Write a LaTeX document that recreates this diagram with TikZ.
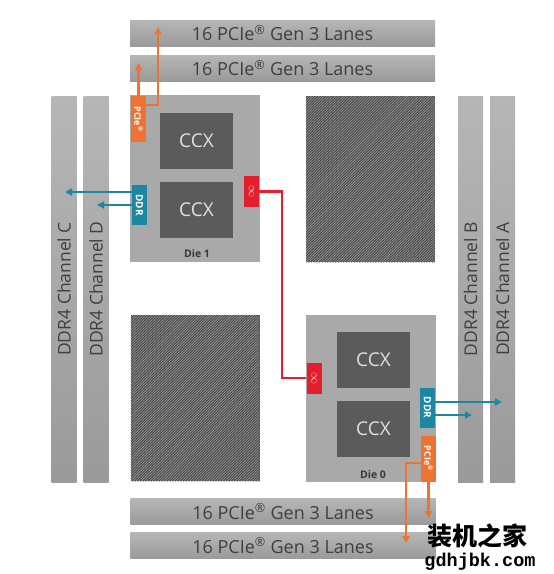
\documentclass[tikz,border=0pt]{standalone}
\usepackage{fontspec}
\setmainfont{Open Sans}
\newfontfamily\cjkfont{Noto Sans CJK SC}
\newfontfamily\monofont{Liberation Mono}
\usetikzlibrary{arrows.meta,patterns.meta}

\definecolor{balkenhell}{HTML}{B6B6B6}
\definecolor{balkendunkel}{HTML}{9A9A9A}
\definecolor{diegrau}{HTML}{A9A9A9}
\definecolor{ccxgrau}{HTML}{5B5B5B}
\definecolor{hatchgrau}{HTML}{4C4C4C}
\definecolor{textgrau}{HTML}{3F3F3F}
\definecolor{pcieorange}{HTML}{EE7330}
\definecolor{ddrteal}{HTML}{1C87A3}
\definecolor{infrot}{HTML}{E31F2E}

\begin{document}
\begin{tikzpicture}[x=1pt,y=-1pt,
	lanes/.style={inner sep=0pt, minimum width=305pt, minimum height=26pt,
		top color=balkenhell, bottom color=balkendunkel, text=textgrau,
		font=\fontsize{18}{20}\selectfont},
	kanal/.style={rotate=90, inner sep=0pt, minimum width=386pt, minimum height=25pt,
		top color=balkenhell, bottom color=balkendunkel, text=textgrau,
		font=\fontsize{17.5}{20}\selectfont},
	die/.style={inner sep=0pt, fill=diegrau, minimum width=130pt, minimum height=167pt},
	ccx/.style={inner sep=0pt, fill=ccxgrau, minimum width=73pt, minimum height=56pt,
		text=white!88!black, font=\fontsize{19}{20}\selectfont},
	gitter/.style={inner sep=0pt, fill=hatchgrau, minimum width=129pt, minimum height=166pt,
		postaction={pattern={Lines[angle=45,distance=1.9pt,line width=0.55pt]}, pattern color=gray!75}},
	pcieblk/.style={rotate=-90, inner sep=0pt, fill=pcieorange, minimum width=46pt, minimum height=15pt,
		text=white, font=\bfseries\fontsize{9}{10}\selectfont},
	ddrblk/.style={rotate=-90, inner sep=0pt, fill=ddrteal, minimum width=40pt, minimum height=15pt,
		text=white, font=\bfseries\fontsize{10}{10}\selectfont},
	infblk/.style={rotate=90, inner sep=0pt, fill=infrot, minimum width=31pt, minimum height=15pt,
		text=white!85!infrot, font=\fontsize{12}{12}\selectfont},
	dielabel/.style={anchor=base, text=textgrau!90!black, font=\bfseries\fontsize{10.5}{12}\selectfont},
	pfeil/.style={line width=2.2pt, -{Triangle[length=7pt,width=7pt]}}]

	\useasboundingbox[fill=white] (0,0) rectangle (554,574);

	% PCIe-Lanes oben und unten
	\node[lanes] (lanesA) at (282.5,33) {16 PCIe\textsuperscript{®} Gen 3 Lanes};
	\node[lanes] (lanesB) at (282.5,68) {16 PCIe\textsuperscript{®} Gen 3 Lanes};
	\node[lanes] (lanesC) at (283,511.5) {16 PCIe\textsuperscript{®} Gen 3 Lanes};
	\node[lanes] (lanesD) at (283,545.5) {16 PCIe\textsuperscript{®} Gen 3 Lanes};

	% DDR4-Kanaele links und rechts
	\node[kanal] (chanC) at (64,289) {DDR4 Channel C};
	\node[kanal] (chanD) at (96,289) {DDR4 Channel D};
	\node[kanal] (chanB) at (470.5,289) {DDR4 Channel B};
	\node[kanal] (chanA) at (502.5,289) {DDR4 Channel A};

	% leere Plaetze (schraffiert)
	\node[gitter] (leerA) at (370.5,179) {};
	\node[gitter] (leerB) at (195,398) {};

	% Die 1
	\node[die] (die1) at (195,178.5) {};
	\node[ccx] (ccx1a) at (196.5,140.5) {CCX};
	\node[ccx] (ccx1b) at (196.5,210) {CCX};
	\node[pcieblk] (pcie1) at (138.5,119) {PCIe\textsuperscript{®}};
	\node[ddrblk] (ddr1) at (139.5,205) {DDR};
	\node[infblk] (inf1) at (251.5,191.5) {$\infty$};
	\node[dielabel] (lab1) at (197,257.5) {Die 1};

	% Die 0
	\node[die] (die0) at (370.5,398.5) {};
	\node[ccx] (ccx0a) at (373.5,360) {CCX};
	\node[ccx] (ccx0b) at (373.5,429) {CCX};
	\node[infblk] (inf0) at (314,378) {$\infty$};
	\node[ddrblk] (ddr0) at (427.5,407.5) {DDR};
	\node[pcieblk] (pcie0) at (428.5,458.5) {PCIe\textsuperscript{®}};
	\node[dielabel] (lab0) at (373,478) {Die 0};

	% Infinity Fabric zwischen den Dies
	\draw[infrot, line width=2.4pt] (inf1.south) -- ++(23,0) |- (inf0.north);

	% DDR-Verbindungen
	\coordinate (tipC) at (65,192);
	\coordinate (tipD) at (97,205);
	\coordinate (tipA) at (502,402);
	\coordinate (tipB) at (472,415);
	\draw[pfeil, ddrteal] (ddr1.south |- tipC) -- (tipC);
	\draw[pfeil, ddrteal] (ddr1.south |- tipD) -- (tipD);
	\draw[pfeil, ddrteal] (ddr0.north |- tipA) -- (tipA);
	\draw[pfeil, ddrteal] (ddr0.north |- tipB) -- (tipB);

	% PCIe-Verbindungen
	\coordinate (knickA) at (158,105);
	\coordinate (tipLA) at (158,27);
	\coordinate (tipLB) at (138.5,63);
	\draw[pfeil, pcieorange] (pcie1.north |- knickA) -- (knickA) -- (tipLA);
	\draw[pfeil, pcieorange] (pcie1.west) -- (tipLB);
	\coordinate (knickD) at (406,463);
	\coordinate (tipLD) at (406,543);
	\coordinate (tipLC) at (428.5,518);
	\draw[pfeil, pcieorange] (pcie0.east) -- (tipLC);
	\draw[pfeil, pcieorange] (pcie0.south |- knickD) -- (knickD) -- (tipLD);

	% Wasserzeichen
	\node (wmA) at (477,536) {\cjkfont\bfseries\fontsize{25}{26}\selectfont 装机之家};
	\node (wmB) at (480,562) {\monofont\bfseries\fontsize{18.5}{20}\selectfont gdhjbk.com};
\end{tikzpicture}
\end{document}
